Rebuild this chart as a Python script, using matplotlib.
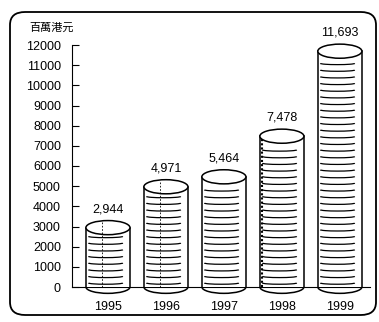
import numpy as np
import matplotlib.pyplot as plt
from matplotlib.patches import Ellipse, Rectangle, Arc, FancyBboxPatch

years = ["1995", "1996", "1997", "1998", "1999"]
values = [2944, 4971, 5464, 7478, 11693]
value_labels = ["2,944", "4,971", "5,464", "7,478", "11,693"]
yticks = [0, 1000, 2000, 3000, 4000, 5000, 6000, 7000, 8000, 9000, 10000, 11000, 12000]
unit = "百萬港元"

plt.rcParams["font.family"] = ["Liberation Sans", "DejaVu Sans"]

fig = plt.figure(figsize=(3.79, 3.22), dpi=100)
ax = fig.add_axes([72 / 379, 35 / 322, 298 / 379, 242 / 322])

# rounded frame around the whole picture
frame = FancyBboxPatch((10 / 379, 7 / 322), 366 / 379, 303 / 322,
                       boxstyle="round,pad=0,rounding_size=0.04",
                       transform=fig.transFigure, fill=False,
                       edgecolor="black", linewidth=1.3)
fig.patches.append(frame)

w = 0.76     # cylinder width
eh = 700     # ellipse height in data units

for i, v in enumerate(values):
    body = Rectangle((i - w / 2, 0), w, v, facecolor="white",
                     edgecolor="none", zorder=3, clip_on=False)
    ax.add_patch(body)
    ax.plot([i - w / 2, i - w / 2], [0, v], color="black", lw=1.1,
            zorder=4, clip_on=False)
    ax.plot([i + w / 2, i + w / 2], [0, v], color="black", lw=1.1,
            zorder=4, clip_on=False)
    ax.add_patch(Arc((i, 0), w, eh * 0.9, theta1=180, theta2=360,
                     color="black", lw=1.1, zorder=4, clip_on=False))
    ax.add_patch(Ellipse((i, v), w, eh, facecolor="white",
                         edgecolor="black", lw=1.1, zorder=5, clip_on=False))
    # horizontal stripes
    for s in np.arange(200, v - 350, 330):
        ax.add_patch(Arc((i - 0.04, s), w * 0.78, eh * 0.18, theta1=190,
                         theta2=350, color="black", lw=0.9, zorder=4,
                         clip_on=False))
    ax.annotate(value_labels[i], (i, v), xytext=(0, 9),
                textcoords="offset points", ha="center", va="bottom",
                fontsize=9, zorder=6)

# dark hatched edge on the 1998 cylinder
ax.plot([3 - w / 2 + 0.04] * 2, [0, values[3]], color="black", lw=1.5,
        ls=(0, (1, 1)), zorder=4, clip_on=False)
for i in [0, 1]:
    ax.plot([i - 0.1] * 2, [0, values[i] + 300], color="black", lw=0.6,
            ls=(0, (2, 2)), zorder=5, clip_on=False)

ax.set_xlim(-0.62, 4.52)
ax.set_ylim(0, 12000)
ax.set_yticks(yticks)
ax.set_yticklabels([str(t) for t in yticks], fontsize=9)
ax.set_xticks(range(len(years)))
ax.set_xticklabels(years, fontsize=9)
ax.tick_params(axis="y", direction="in", length=5, width=0.8, pad=8)
ax.tick_params(axis="x", length=0, pad=10)
ax.spines["top"].set_visible(False)
ax.spines["right"].set_visible(False)
ax.spines["left"].set_linewidth(0.8)
ax.spines["bottom"].set_linewidth(0.8)

fig.text(29 / 379, 1 - 28 / 322, unit, fontsize=8, va="center",
         family=["Noto Sans CJK TC", "DejaVu Sans"])

fig.savefig("out.png", dpi=100)
